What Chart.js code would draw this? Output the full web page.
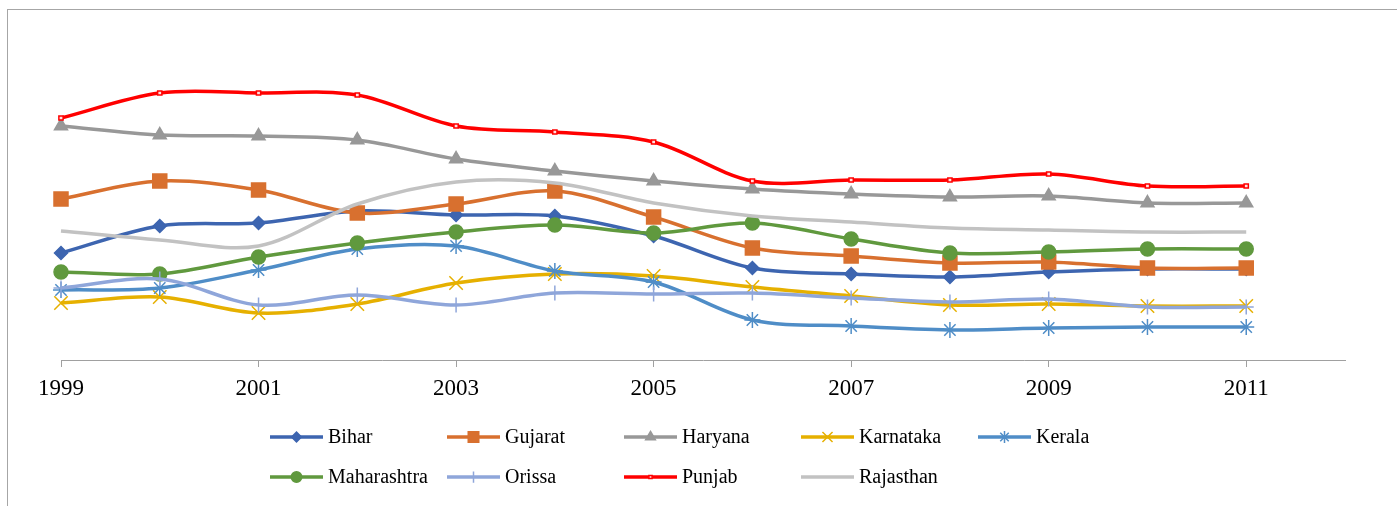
<!DOCTYPE html>
<html>
<head>
<meta charset="utf-8">
<script src="https://cdn.jsdelivr.net/npm/chart.js@4"></script>
<style>
  html, body { margin: 0; padding: 0; background: #fff; overflow: hidden; }
  #frame { position: absolute; left: 7px; top: 9px; width: 1500px; height: 600px;
           border-left: 1px solid #a6a6a6; border-top: 1px solid #a6a6a6; }
  #c { position: absolute; left: 0; top: 0; }
</style>
</head>
<body>
<div id="frame"></div>
<canvas id="c" width="1397" height="506"></canvas>
<script>
const years = ['1999', '2000', '2001', '2002', '2003', '2004', '2005',
    '2006', '2007', '2008', '2009', '2010', '2011', '2012'];

// values (no y scale shown, arbitrary units)
const bihar       = [10.7, 13.4, 13.7, 14.9, 14.5, 14.4, 12.4, 9.2, 8.6, 8.3, 8.8, 9.1, 9.1];
const gujarat     = [16.1, 17.9, 17.0, 14.7, 15.6, 16.9, 14.3, 11.2, 10.4, 9.7, 9.8, 9.2, 9.2];
const haryana     = [23.4, 22.5, 22.4, 22.0, 20.1, 18.9, 17.9, 17.1, 16.6, 16.3, 16.4, 15.7, 15.7];
const karnataka   = [5.7, 6.3, 4.7, 5.6, 7.7, 8.6, 8.4, 7.3, 6.4, 5.5, 5.6, 5.4, 5.4];
const kerala      = [7.0, 7.2, 9.0, 11.1, 11.4, 8.9, 7.8, 4.0, 3.4, 3.0, 3.2, 3.3, 3.3];
const maharashtra = [8.8, 8.6, 10.3, 11.7, 12.8, 13.5, 12.7, 13.7, 12.1, 10.7, 10.8, 11.1, 11.1];
const orissa      = [7.2, 8.1, 5.5, 6.5, 5.5, 6.7, 6.6, 6.7, 6.2, 5.8, 6.1, 5.3, 5.3];
const punjab      = [24.2, 26.7, 26.7, 26.5, 23.4, 22.8, 21.8, 17.9, 18.0, 18.0, 18.6, 17.4, 17.4];
const rajasthan   = [12.9, 12.0, 11.4, 15.6, 17.8, 17.7, 15.7, 14.4, 13.8, 13.2, 13.0, 12.8, 12.8];

const series = [
    {label: 'Bihar', data: bihar, color: '#3d65b0', style: 'rectRot', r: 6.5},
    {label: 'Gujarat', data: gujarat, color: '#d8702f', style: 'rect', r: 9.9},
    {label: 'Haryana', data: haryana, color: '#989898', style: 'triangle', r: 7.5},
    {label: 'Karnataka', data: karnataka, color: '#e6b000', style: 'crossRot', r: 9.5},
    {label: 'Kerala', data: kerala, color: '#4f8dc7', style: 'star', r: 8},
    {label: 'Maharashtra', data: maharashtra, color: '#60993e', style: 'circle', r: 7},
    {label: 'Orissa', data: orissa, color: '#8fa6da', style: 'cross', r: 7.5},
    {label: 'Punjab', data: punjab, color: '#ff0000', style: 'rect', r: 3, fill: '#ffe0e0'},
    {label: 'Rajasthan', data: rajasthan, color: '#c2c2c2', style: false, r: 0},
];

const datasets = series.map((s, i) => ({
    label: s.label,
    data: s.data,
    borderColor: s.color,
    backgroundColor: s.fill || s.color,
    borderWidth: 3.5,
    tension: 0.33,
    pointStyle: s.style,
    pointRadius: s.r,
    pointBorderColor: s.color,
    pointBackgroundColor: s.fill || s.color,
    pointBorderWidth: 1.5,
    order: 9 - i,
}));

// legend drawn in Excel style: 5 columns, line with marker in the middle
const legendPlugin = {
    id: 'excelLegend',
    afterDraw(chart) {
        const ctx = chart.ctx;
        ctx.save();
        series.forEach((s, i) => {
            const x0 = 270 + (i % 5) * 177;
            const y = 437 + Math.floor(i / 5) * 40;
            ctx.strokeStyle = s.color;
            ctx.lineWidth = 3.5;
            ctx.beginPath();
            ctx.moveTo(x0, y);
            ctx.lineTo(x0 + 53, y);
            ctx.stroke();
            if (s.style) {
                ctx.fillStyle = s.fill || s.color;
                ctx.strokeStyle = s.color;
                ctx.lineWidth = 1.5;
                Chart.helpers.drawPoint(ctx, {
                    pointStyle: s.style, rotation: 0,
                    radius: s.r * 0.75, borderWidth: 1.5
                }, x0 + 26.5, y);
            }
            ctx.fillStyle = '#000';
            ctx.font = '20px "Liberation Serif"';
            ctx.textBaseline = 'middle';
            ctx.textAlign = 'left';
            ctx.fillText(s.label, x0 + 58, y + 1);
        });
        ctx.restore();
    }
};

new Chart(document.getElementById('c'), {
    type: 'line',
    data: {labels: years, datasets: datasets},
    options: {
        responsive: false,
        animation: false,
        layout: {padding: {left: 61, right: 52, top: 30, bottom: 0}},
        plugins: {
            legend: {display: false},
            tooltip: {enabled: false},
        },
        scales: {
            y: {display: false, min: 0, max: 33},
            x: {
                offset: false,
                afterFit: (s) => { s.height = 146; },
                border: {display: true, color: '#a0a0a0', width: 1},
                grid: {
                    drawOnChartArea: false,
                    tickLength: 7,
                    color: (c) => (c.index % 2 === 0 ? '#a0a0a0' : 'rgba(0,0,0,0)'),
                },
                ticks: {
                    autoSkip: false,
                    maxRotation: 0,
                    padding: 8,
                    color: '#000',
                    font: {family: 'Liberation Serif', size: 23},
                    callback: function (v, i) { return i % 2 === 0 ? this.getLabelForValue(v) : ''; },
                },
            },
        },
    },
    plugins: [legendPlugin],
});
</script>
</body>
</html>
